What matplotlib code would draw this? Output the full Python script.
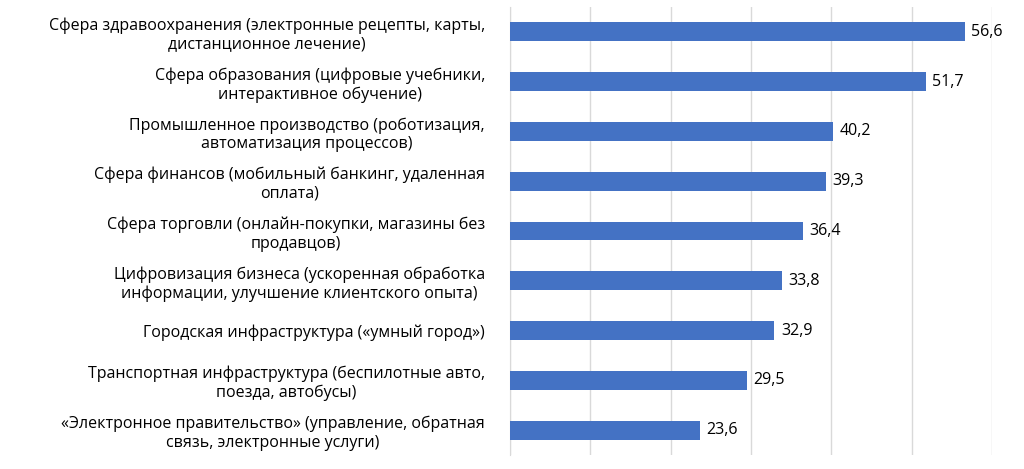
import matplotlib
matplotlib.use("Agg")
import matplotlib.pyplot as plt

categories = [
    "Сфера здравоохранения (электронные рецепты, карты,\nдистанционное лечение)",
    "Сфера образования (цифровые учебники,\nинтерактивное обучение)",
    "Промышленное производство (роботизация,\nавтоматизация процессов)",
    "Сфера финансов (мобильный банкинг, удаленная\nоплата)",
    "Сфера торговли (онлайн-покупки, магазины без\nпродавцов)",
    "Цифровизация бизнеса (ускоренная обработка\nинформации, улучшение клиентского опыта)",
    "Городская инфраструктура («умный город»)",
    "Транспортная инфраструктура (беспилотные авто,\nпоезда, автобусы)",
    "«Электронное правительство» (управление, обратная\nсвязь, электронные услуги)",
]
values = [56.6, 51.7, 40.2, 39.3, 36.4, 33.8, 32.9, 29.5, 23.6]

plt.rcParams["font.family"] = "Open Sans"
fig = plt.figure(figsize=(10.24, 4.69), dpi=100)
ax = fig.add_axes([0.498, 0.03, 0.471, 0.955])

pos = list(range(len(values)))[::-1]
ax.barh(pos, values, height=0.38, color="#4472C4", zorder=3)
for p, v in zip(pos, values):
    ax.text(v + 0.8, p, f"{v:.1f}".replace(".", ","), va="center", ha="left", fontsize=11.5)

ax.set_xlim(0, 60)
ax.set_ylim(-0.5, len(values) - 0.5)
ax.set_xticks(range(0, 61, 10))
ax.set_xticklabels([])
ax.tick_params(axis="x", length=0)
ax.set_yticks(pos)
ax.set_yticklabels(categories, fontsize=11.5, multialignment="center")
ax.tick_params(axis="y", length=0, pad=18)
ax.grid(axis="x", color="#D9D9D9", linewidth=1, zorder=0)
for s in ["top", "right", "bottom"]:
    ax.spines[s].set_visible(False)
ax.spines["left"].set_color("#D9D9D9")

fig.savefig("out.png", dpi=100)
